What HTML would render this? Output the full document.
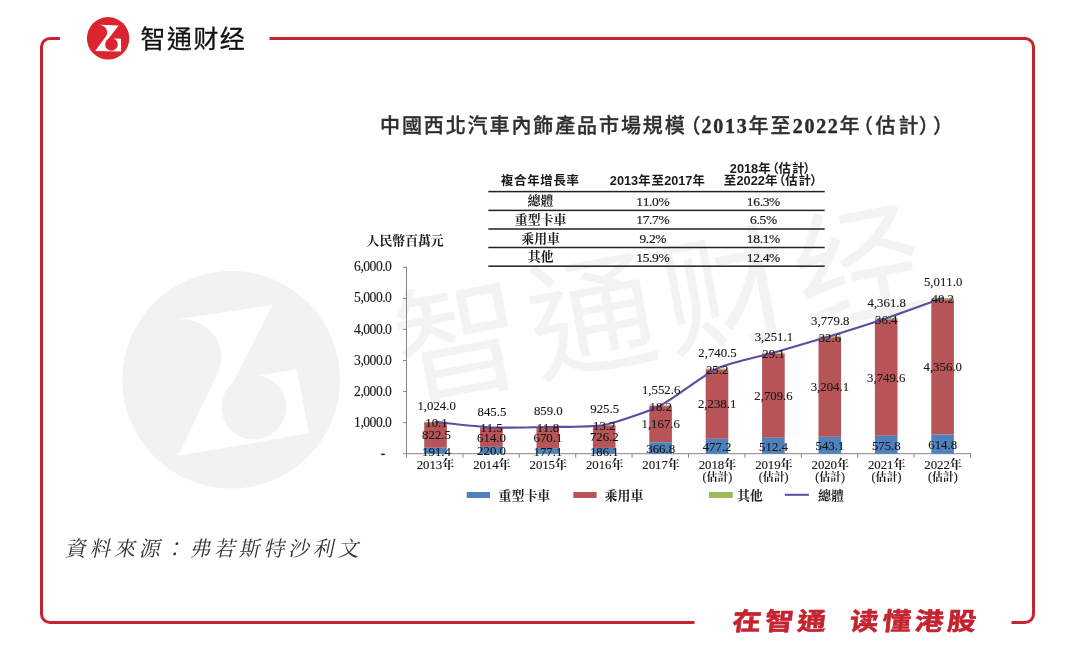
<!DOCTYPE html>
<html lang="zh-Hant">
<head>
<meta charset="utf-8">
<title>中國西北汽車內飾產品市場規模（2013年至2022年（估計））</title>
<style>
html,body{margin:0;padding:0;background:#fff}
body{width:1080px;height:647px;position:relative;overflow:hidden;font-family:"Liberation Serif",serif}
svg{position:absolute;left:0;top:0;display:block;will-change:transform}
svg text{white-space:pre}
.t{position:absolute;color:transparent;white-space:nowrap;line-height:1;font-family:"Liberation Sans",sans-serif;pointer-events:none;user-select:none}
</style>
</head>
<body>
<svg width="1080" height="647" viewBox="0 0 1080 647">
<g transform="translate(231.2 379.7) rotate(-10.6) scale(5.13) translate(-108.110 -38.332)"><g transform="translate(84 14) scale(0.07418)"><circle cx="325" cy="328" r="286" fill="#F2F2F2"/><path fill="#fff" d="M205 145L468 155L342 318L371 413L395 330L499 333L500 504L151 499L293 305C340 244.5 300 150 205 145Z"/><circle cx="370" cy="410" r="85" fill="#F2F2F2"/><path fill="#F2F2F2" d="M343 317L298 371L370 410L395 331Z"/></g><text x="140.6 167 193.4 219.8" y="48.3" style="font-family:'Liberation Sans','Noto Sans CJK SC',sans-serif;font-size:25px" fill="#F3F3F3">智通财经</text></g>
<path fill="none" stroke="#C4242F" stroke-width="3" d="M60 38.5H50.0A8.5 8.5 0 0 0 41.5 47.0V614.0A8.5 8.5 0 0 0 50.0 622.5H694.5M1011.5 622.5H1025.0A8.5 8.5 0 0 0 1033.5 614.0V47.0A8.5 8.5 0 0 0 1025.0 38.5H269.5"/>
<g transform="translate(84 14) scale(0.07418)"><circle cx="325" cy="328" r="286" fill="#DA2531"/><path fill="#fff" d="M205 145L468 155L342 318L371 413L395 330L499 333L500 504L151 499L293 305C340 244.5 300 150 205 145Z"/><circle cx="370" cy="410" r="85" fill="#DA2531"/><path fill="#DA2531" d="M343 317L298 371L370 410L395 331Z"/></g>
<text x="140.6 167 193.4 219.8" y="48.3" style="font-family:'Liberation Sans','Noto Sans CJK SC',sans-serif;font-size:25px" fill="#111" stroke="#111" stroke-width="0.3">智通财经</text>
<text x="380 401.9 423.8 445.7 467.6 489.5 511.4 533.3 555.2 577.1 599 620.9 642.8 664.7" y="133.1" style="font-family:'Liberation Sans','Noto Sans CJK TC',sans-serif;font-weight:500;font-size:20px" fill="#2e2e2e" stroke="#2e2e2e" stroke-width="0.3">中國西北汽車內飾產品市場規模</text>
<text x="700.5" y="133.1" text-anchor="end" style="font-family:'Liberation Sans','Noto Sans CJK TC',sans-serif;font-weight:500;font-size:20px" fill="#2e2e2e" stroke="#2e2e2e" stroke-width="0.3">（</text>
<text x="748.4 770.6" y="133.1" style="font-family:'Liberation Sans','Noto Sans CJK TC',sans-serif;font-weight:500;font-size:20px" fill="#2e2e2e" stroke="#2e2e2e" stroke-width="0.3">年至</text><text x="839.6" y="133.1" style="font-family:'Liberation Sans','Noto Sans CJK TC',sans-serif;font-weight:500;font-size:20px" fill="#2e2e2e" stroke="#2e2e2e" stroke-width="0.3">年</text><text x="701.56 713.26 724.96 736.66" y="133.1" style="font-family:'Liberation Serif',serif;font-weight:bold;font-size:20px" fill="#2e2e2e" stroke="#111" stroke-width="0.35">2013</text><text x="792.76 804.46 816.16 827.86" y="133.1" style="font-family:'Liberation Serif',serif;font-weight:bold;font-size:20px" fill="#2e2e2e" stroke="#111" stroke-width="0.35">2022</text>
<text x="873" y="133.1" text-anchor="end" style="font-family:'Liberation Sans','Noto Sans CJK TC',sans-serif;font-weight:500;font-size:20px" fill="#2e2e2e" stroke="#2e2e2e" stroke-width="0.3">（</text>
<text x="875.6 898.5" y="133.1" style="font-family:'Liberation Sans','Noto Sans CJK TC',sans-serif;font-weight:500;font-size:20px" fill="#2e2e2e" stroke="#2e2e2e" stroke-width="0.3">估計</text>
<text x="918.7" y="133.1" style="font-family:'Liberation Sans','Noto Sans CJK TC',sans-serif;font-weight:500;font-size:20px" fill="#2e2e2e" stroke="#2e2e2e" stroke-width="0.3">）</text>
<text x="932.9" y="133.1" style="font-family:'Liberation Sans','Noto Sans CJK TC',sans-serif;font-weight:500;font-size:20px" fill="#2e2e2e" stroke="#2e2e2e" stroke-width="0.3">）</text>
<rect x="488.3" y="190.85" width="336.4" height="1.5" fill="#222"/>
<rect x="488.3" y="209.65" width="336.4" height="1.5" fill="#222"/>
<rect x="488.3" y="228.25" width="336.4" height="1.5" fill="#222"/>
<rect x="488.3" y="246.75" width="336.4" height="1.5" fill="#222"/>
<rect x="488.3" y="265.45" width="336.4" height="1.5" fill="#222"/>
<text x="501 514.1 527.2 540.3 553.4 566.5" y="185.2" style="font-family:'Liberation Sans','Noto Sans CJK TC',sans-serif;font-weight:bold;font-size:12.4px" fill="#1a1a1a">複合年增長率</text>
<text x="638.3 651.4" y="185.2" style="font-family:'Liberation Sans','Noto Sans CJK TC',sans-serif;font-weight:bold;font-size:12.4px" fill="#1a1a1a">年至</text><text x="692.6" y="185.2" style="font-family:'Liberation Sans','Noto Sans CJK TC',sans-serif;font-weight:bold;font-size:12.4px" fill="#1a1a1a">年</text><text x="609.86 616.92 623.99 631.06" y="185.2" style="font-family:'Liberation Sans',sans-serif;font-weight:bold;font-size:12.8px" fill="#1a1a1a" >2013</text><text x="664.13 671.2 678.27 685.34" y="185.2" style="font-family:'Liberation Sans',sans-serif;font-weight:bold;font-size:12.8px" fill="#1a1a1a" >2017</text>
<text x="758.3" y="172.7" style="font-family:'Liberation Sans','Noto Sans CJK TC',sans-serif;font-weight:bold;font-size:12.4px" fill="#1a1a1a">年</text><text x="778.9" y="172.7" text-anchor="end" style="font-family:'Liberation Sans','Noto Sans CJK TC',sans-serif;font-weight:bold;font-size:12.4px" fill="#1a1a1a">（</text><text x="778.6 792" y="172.7" style="font-family:'Liberation Sans','Noto Sans CJK TC',sans-serif;font-weight:bold;font-size:12.4px" fill="#1a1a1a">估計</text><text x="803.6" y="172.7" style="font-family:'Liberation Sans','Noto Sans CJK TC',sans-serif;font-weight:bold;font-size:12.4px" fill="#1a1a1a">）</text><text x="729.87 736.94 744.01 751.07" y="172.7" style="font-family:'Liberation Sans',sans-serif;font-weight:bold;font-size:12.8px" fill="#1a1a1a" >2018</text>
<text x="723.8" y="185.2" style="font-family:'Liberation Sans','Noto Sans CJK TC',sans-serif;font-weight:bold;font-size:12.4px" fill="#1a1a1a">至</text><text x="765" y="185.2" style="font-family:'Liberation Sans','Noto Sans CJK TC',sans-serif;font-weight:bold;font-size:12.4px" fill="#1a1a1a">年</text><text x="785.5" y="185.2" text-anchor="end" style="font-family:'Liberation Sans','Noto Sans CJK TC',sans-serif;font-weight:bold;font-size:12.4px" fill="#1a1a1a">（</text><text x="785.2 798.6" y="185.2" style="font-family:'Liberation Sans','Noto Sans CJK TC',sans-serif;font-weight:bold;font-size:12.4px" fill="#1a1a1a">估計</text><text x="810.2" y="185.2" style="font-family:'Liberation Sans','Noto Sans CJK TC',sans-serif;font-weight:bold;font-size:12.4px" fill="#1a1a1a">）</text><text x="736.51 743.58 750.64 757.71" y="185.2" style="font-family:'Liberation Sans',sans-serif;font-weight:bold;font-size:12.8px" fill="#1a1a1a" >2022</text>
<text x="527.4 540.4" y="205.4" style="font-family:'Liberation Serif','Noto Serif CJK SC',serif;font-weight:bold;font-size:12.9px" fill="#1a1a1a">總體</text>
<text x="636.26 642.66 649.06 652.09 658.49" y="205.6" style="font-family:'Liberation Serif',serif;font-size:13.5px" fill="#1a1a1a" stroke="#1a1a1a" stroke-width="0.2">11.0%</text>
<text x="746.86 753.26 759.66 762.69 769.09" y="205.6" style="font-family:'Liberation Serif',serif;font-size:13.5px" fill="#1a1a1a" stroke="#1a1a1a" stroke-width="0.2">16.3%</text>
<text x="514.7 527.65 540.6 553.55" y="224.1" style="font-family:'Liberation Serif','Noto Serif CJK SC',serif;font-weight:bold;font-size:12.9px" fill="#1a1a1a">重型卡車</text>
<text x="636.26 642.66 649.06 652.09 658.49" y="224.3" style="font-family:'Liberation Serif',serif;font-size:13.5px" fill="#1a1a1a" stroke="#1a1a1a" stroke-width="0.2">17.7%</text>
<text x="750.06 756.46 759.49 765.89" y="224.3" style="font-family:'Liberation Serif',serif;font-size:13.5px" fill="#1a1a1a" stroke="#1a1a1a" stroke-width="0.2">6.5%</text>
<text x="521.2 534.15 547.1" y="242.7" style="font-family:'Liberation Serif','Noto Serif CJK SC',serif;font-weight:bold;font-size:12.9px" fill="#1a1a1a">乘用車</text>
<text x="639.46 645.86 648.89 655.29" y="242.9" style="font-family:'Liberation Serif',serif;font-size:13.5px" fill="#1a1a1a" stroke="#1a1a1a" stroke-width="0.2">9.2%</text>
<text x="746.86 753.26 759.66 762.69 769.09" y="242.9" style="font-family:'Liberation Serif',serif;font-size:13.5px" fill="#1a1a1a" stroke="#1a1a1a" stroke-width="0.2">18.1%</text>
<text x="527.7 540.65" y="261.3" style="font-family:'Liberation Serif','Noto Serif CJK SC',serif;font-weight:bold;font-size:12.9px" fill="#1a1a1a">其他</text>
<text x="636.26 642.66 649.06 652.09 658.49" y="261.5" style="font-family:'Liberation Serif',serif;font-size:13.5px" fill="#1a1a1a" stroke="#1a1a1a" stroke-width="0.2">15.9%</text>
<text x="746.86 753.26 759.66 762.69 769.09" y="261.5" style="font-family:'Liberation Serif',serif;font-size:13.5px" fill="#1a1a1a" stroke="#1a1a1a" stroke-width="0.2">12.4%</text>
<text x="366.6 379.45 392.3 405.15 418 430.85" y="245" style="font-family:'Liberation Serif','Noto Serif CJK SC',serif;font-weight:bold;font-size:12.9px" fill="#1a1a1a">人民幣百萬元</text>
<path stroke="#868686" stroke-width="1" fill="none" d="M406.5 266.78V453.7M403.0 453.7H406.5M403.0 422.63H406.5M403.0 391.56H406.5M403.0 360.49H406.5M403.0 329.42H406.5M403.0 298.35H406.5M403.0 267.28H406.5M406.0 453.7H971.0M406.5 453.7v4M462.9 453.7v4M519.3 453.7v4M575.7 453.7v4M632.1 453.7v4M688.5 453.7v4M744.9 453.7v4M801.3 453.7v4M857.7 453.7v4M914.1 453.7v4M970.5 453.7v4"/>
<text x="354.12 360.42 363.32 369.62 375.92 382.22 385.12" y="426.73" style="font-family:'Liberation Serif',serif;font-size:13.6px" fill="#1a1a1a" stroke="#1a1a1a" stroke-width="0.15">1,000.0</text>
<text x="354.12 360.42 363.32 369.62 375.92 382.22 385.12" y="395.66" style="font-family:'Liberation Serif',serif;font-size:13.6px" fill="#1a1a1a" stroke="#1a1a1a" stroke-width="0.15">2,000.0</text>
<text x="354.12 360.42 363.32 369.62 375.92 382.22 385.12" y="364.59" style="font-family:'Liberation Serif',serif;font-size:13.6px" fill="#1a1a1a" stroke="#1a1a1a" stroke-width="0.15">3,000.0</text>
<text x="354.12 360.42 363.32 369.62 375.92 382.22 385.12" y="333.52" style="font-family:'Liberation Serif',serif;font-size:13.6px" fill="#1a1a1a" stroke="#1a1a1a" stroke-width="0.15">4,000.0</text>
<text x="354.12 360.42 363.32 369.62 375.92 382.22 385.12" y="302.45" style="font-family:'Liberation Serif',serif;font-size:13.6px" fill="#1a1a1a" stroke="#1a1a1a" stroke-width="0.15">5,000.0</text>
<text x="354.12 360.42 363.32 369.62 375.92 382.22 385.12" y="271.38" style="font-family:'Liberation Serif',serif;font-size:13.6px" fill="#1a1a1a" stroke="#1a1a1a" stroke-width="0.15">6,000.0</text>
<rect x="381.2" y="453.59999999999997" width="3.6" height="1.5" fill="#1a1a1a"/>
<rect x="424.2" y="422.2" width="22.6" height="25.56" fill="#B65458"/>
<rect x="424.2" y="447.75" width="22.6" height="5.95" fill="#4F81BD"/>
<rect x="424.2" y="421.88" width="22.6" height="0.31" fill="#9BBB59"/>
<rect x="480.1" y="427.79" width="22.6" height="19.08" fill="#B65458"/>
<rect x="480.1" y="446.86" width="22.6" height="6.84" fill="#4F81BD"/>
<rect x="480.1" y="427.43" width="22.6" height="0.36" fill="#9BBB59"/>
<rect x="536.5" y="427.38" width="22.6" height="20.82" fill="#B65458"/>
<rect x="536.5" y="448.2" width="22.6" height="5.5" fill="#4F81BD"/>
<rect x="536.5" y="427.01" width="22.6" height="0.37" fill="#9BBB59"/>
<rect x="592.9" y="425.35" width="22.6" height="22.56" fill="#B65458"/>
<rect x="592.9" y="447.92" width="22.6" height="5.78" fill="#4F81BD"/>
<rect x="592.9" y="424.94" width="22.6" height="0.41" fill="#9BBB59"/>
<rect x="649.3" y="406.03" width="22.6" height="36.28" fill="#B65458"/>
<rect x="649.3" y="442.3" width="22.6" height="11.4" fill="#4F81BD"/>
<rect x="649.3" y="405.46" width="22.6" height="0.57" fill="#9BBB59"/>
<rect x="705.7" y="369.34" width="22.6" height="69.54" fill="#B65458"/>
<rect x="705.7" y="438.87" width="22.6" height="14.83" fill="#4F81BD"/>
<rect x="705.7" y="368.55" width="22.6" height="0.78" fill="#9BBB59"/>
<rect x="762.1" y="353.59" width="22.6" height="84.19" fill="#B65458"/>
<rect x="762.1" y="437.78" width="22.6" height="15.92" fill="#4F81BD"/>
<rect x="762.1" y="352.69" width="22.6" height="0.9" fill="#9BBB59"/>
<rect x="818.5" y="337.27" width="22.6" height="99.55" fill="#B65458"/>
<rect x="818.5" y="436.83" width="22.6" height="16.87" fill="#4F81BD"/>
<rect x="818.5" y="336.26" width="22.6" height="1.01" fill="#9BBB59"/>
<rect x="874.9" y="319.31" width="22.6" height="116.5" fill="#B65458"/>
<rect x="874.9" y="435.81" width="22.6" height="17.89" fill="#4F81BD"/>
<rect x="874.9" y="318.18" width="22.6" height="1.13" fill="#9BBB59"/>
<rect x="931.3" y="299.26" width="22.6" height="135.34" fill="#B65458"/>
<rect x="931.3" y="434.6" width="22.6" height="19.1" fill="#4F81BD"/>
<rect x="931.3" y="298.01" width="22.6" height="1.25" fill="#9BBB59"/>
<path d="M435.5 421.88C441.46 422.48 479.42 426.88 491.4 427.43C503.38 427.98 535.77 427.28 547.8 427.01C559.83 426.75 592.17 427.24 604.2 424.94C616.23 422.65 648.57 411.48 660.6 405.46C672.63 399.45 704.97 374.18 717 368.55C729.03 362.92 761.37 356.13 773.4 352.69C785.43 349.24 817.77 339.94 829.8 336.26C841.83 332.58 874.17 322.26 886.2 318.18C898.23 314.1 936.58 300.16 942.6 298.01" fill="none" stroke="#604C9F" stroke-width="2.1" stroke-linecap="round" stroke-linejoin="round"/>
<g transform="translate(436.6 410.34) scale(0.97 1)"><text x="-19.8 -13.2 -9.9 -3.3 3.3 9.9 13.2" y="0" style="font-family:'Liberation Serif',serif;font-size:13.2px" fill="#141414" stroke="#141414" stroke-width="0.1">1,024.0</text></g>
<g transform="translate(436.5 426.9) scale(0.97 1)"><text x="-11.55 -4.95 1.65 4.95" y="0" style="font-family:'Liberation Serif',serif;font-size:13.2px" fill="#141414" stroke="#141414" stroke-width="0.1">10.1</text></g>
<g transform="translate(436.5 439.23) scale(0.97 1)"><text x="-14.85 -8.25 -1.65 4.95 8.25" y="0" style="font-family:'Liberation Serif',serif;font-size:13.2px" fill="#141414" stroke="#141414" stroke-width="0.1">822.5</text></g>
<g transform="translate(436.5 455.78) scale(0.97 1)"><text x="-14.85 -8.25 -1.65 4.95 8.25" y="0" style="font-family:'Liberation Serif',serif;font-size:13.2px" fill="#141414" stroke="#141414" stroke-width="0.1">191.4</text></g>
<g transform="translate(491.9 415.89) scale(0.97 1)"><text x="-14.85 -8.25 -1.65 4.95 8.25" y="0" style="font-family:'Liberation Serif',serif;font-size:13.2px" fill="#141414" stroke="#141414" stroke-width="0.1">845.5</text></g>
<g transform="translate(491.5 432.46) scale(0.97 1)"><text x="-11.55 -4.95 1.65 4.95" y="0" style="font-family:'Liberation Serif',serif;font-size:13.2px" fill="#141414" stroke="#141414" stroke-width="0.1">11.5</text></g>
<g transform="translate(491.5 441.58) scale(0.97 1)"><text x="-14.85 -8.25 -1.65 4.95 8.25" y="0" style="font-family:'Liberation Serif',serif;font-size:13.2px" fill="#141414" stroke="#141414" stroke-width="0.1">614.0</text></g>
<g transform="translate(491.5 455.34) scale(0.97 1)"><text x="-14.85 -8.25 -1.65 4.95 8.25" y="0" style="font-family:'Liberation Serif',serif;font-size:13.2px" fill="#141414" stroke="#141414" stroke-width="0.1">220.0</text></g>
<g transform="translate(548.3 415.47) scale(0.97 1)"><text x="-14.85 -8.25 -1.65 4.95 8.25" y="0" style="font-family:'Liberation Serif',serif;font-size:13.2px" fill="#141414" stroke="#141414" stroke-width="0.1">859.0</text></g>
<g transform="translate(547.9 432.05) scale(0.97 1)"><text x="-11.55 -4.95 1.65 4.95" y="0" style="font-family:'Liberation Serif',serif;font-size:13.2px" fill="#141414" stroke="#141414" stroke-width="0.1">11.8</text></g>
<g transform="translate(547.9 442.04) scale(0.97 1)"><text x="-14.85 -8.25 -1.65 4.95 8.25" y="0" style="font-family:'Liberation Serif',serif;font-size:13.2px" fill="#141414" stroke="#141414" stroke-width="0.1">670.1</text></g>
<g transform="translate(547.9 456) scale(0.97 1)"><text x="-14.85 -8.25 -1.65 4.95 8.25" y="0" style="font-family:'Liberation Serif',serif;font-size:13.2px" fill="#141414" stroke="#141414" stroke-width="0.1">177.1</text></g>
<g transform="translate(604.7 413.4) scale(0.97 1)"><text x="-14.85 -8.25 -1.65 4.95 8.25" y="0" style="font-family:'Liberation Serif',serif;font-size:13.2px" fill="#141414" stroke="#141414" stroke-width="0.1">925.5</text></g>
<g transform="translate(604.3 430.01) scale(0.97 1)"><text x="-11.55 -4.95 1.65 4.95" y="0" style="font-family:'Liberation Serif',serif;font-size:13.2px" fill="#141414" stroke="#141414" stroke-width="0.1">13.2</text></g>
<g transform="translate(604.3 440.89) scale(0.97 1)"><text x="-14.85 -8.25 -1.65 4.95 8.25" y="0" style="font-family:'Liberation Serif',serif;font-size:13.2px" fill="#141414" stroke="#141414" stroke-width="0.1">726.2</text></g>
<g transform="translate(604.3 455.86) scale(0.97 1)"><text x="-14.85 -8.25 -1.65 4.95 8.25" y="0" style="font-family:'Liberation Serif',serif;font-size:13.2px" fill="#141414" stroke="#141414" stroke-width="0.1">186.1</text></g>
<g transform="translate(661.1 393.92) scale(0.97 1)"><text x="-19.8 -13.2 -9.9 -3.3 3.3 9.9 13.2" y="0" style="font-family:'Liberation Serif',serif;font-size:13.2px" fill="#141414" stroke="#141414" stroke-width="0.1">1,552.6</text></g>
<g transform="translate(660.7 410.6) scale(0.97 1)"><text x="-11.55 -4.95 1.65 4.95" y="0" style="font-family:'Liberation Serif',serif;font-size:13.2px" fill="#141414" stroke="#141414" stroke-width="0.1">18.2</text></g>
<g transform="translate(660.7 428.42) scale(0.97 1)"><text x="-19.8 -13.2 -9.9 -3.3 3.3 9.9 13.2" y="0" style="font-family:'Liberation Serif',serif;font-size:13.2px" fill="#141414" stroke="#141414" stroke-width="0.1">1,167.6</text></g>
<g transform="translate(660.7 453.06) scale(0.97 1)"><text x="-14.85 -8.25 -1.65 4.95 8.25" y="0" style="font-family:'Liberation Serif',serif;font-size:13.2px" fill="#141414" stroke="#141414" stroke-width="0.1">366.8</text></g>
<g transform="translate(717.5 357.01) scale(0.97 1)"><text x="-19.8 -13.2 -9.9 -3.3 3.3 9.9 13.2" y="0" style="font-family:'Liberation Serif',serif;font-size:13.2px" fill="#141414" stroke="#141414" stroke-width="0.1">2,740.5</text></g>
<g transform="translate(717.1 373.8) scale(0.97 1)"><text x="-11.55 -4.95 1.65 4.95" y="0" style="font-family:'Liberation Serif',serif;font-size:13.2px" fill="#141414" stroke="#141414" stroke-width="0.1">25.2</text></g>
<g transform="translate(717.1 408.36) scale(0.97 1)"><text x="-19.8 -13.2 -9.9 -3.3 3.3 9.9 13.2" y="0" style="font-family:'Liberation Serif',serif;font-size:13.2px" fill="#141414" stroke="#141414" stroke-width="0.1">2,238.1</text></g>
<g transform="translate(717.1 451.34) scale(0.97 1)"><text x="-14.85 -8.25 -1.65 4.95 8.25" y="0" style="font-family:'Liberation Serif',serif;font-size:13.2px" fill="#141414" stroke="#141414" stroke-width="0.1">477.2</text></g>
<g transform="translate(773.9 341.14) scale(0.97 1)"><text x="-19.8 -13.2 -9.9 -3.3 3.3 9.9 13.2" y="0" style="font-family:'Liberation Serif',serif;font-size:13.2px" fill="#141414" stroke="#141414" stroke-width="0.1">3,251.1</text></g>
<g transform="translate(773.5 358) scale(0.97 1)"><text x="-11.55 -4.95 1.65 4.95" y="0" style="font-family:'Liberation Serif',serif;font-size:13.2px" fill="#141414" stroke="#141414" stroke-width="0.1">29.1</text></g>
<g transform="translate(773.5 399.94) scale(0.97 1)"><text x="-19.8 -13.2 -9.9 -3.3 3.3 9.9 13.2" y="0" style="font-family:'Liberation Serif',serif;font-size:13.2px" fill="#141414" stroke="#141414" stroke-width="0.1">2,709.6</text></g>
<g transform="translate(773.5 450.8) scale(0.97 1)"><text x="-14.85 -8.25 -1.65 4.95 8.25" y="0" style="font-family:'Liberation Serif',serif;font-size:13.2px" fill="#141414" stroke="#141414" stroke-width="0.1">512.4</text></g>
<g transform="translate(830.3 324.72) scale(0.97 1)"><text x="-19.8 -13.2 -9.9 -3.3 3.3 9.9 13.2" y="0" style="font-family:'Liberation Serif',serif;font-size:13.2px" fill="#141414" stroke="#141414" stroke-width="0.1">3,779.8</text></g>
<g transform="translate(829.9 341.62) scale(0.97 1)"><text x="-11.55 -4.95 1.65 4.95" y="0" style="font-family:'Liberation Serif',serif;font-size:13.2px" fill="#141414" stroke="#141414" stroke-width="0.1">32.6</text></g>
<g transform="translate(829.9 391.31) scale(0.97 1)"><text x="-19.8 -13.2 -9.9 -3.3 3.3 9.9 13.2" y="0" style="font-family:'Liberation Serif',serif;font-size:13.2px" fill="#141414" stroke="#141414" stroke-width="0.1">3,204.1</text></g>
<g transform="translate(829.9 450.32) scale(0.97 1)"><text x="-14.85 -8.25 -1.65 4.95 8.25" y="0" style="font-family:'Liberation Serif',serif;font-size:13.2px" fill="#141414" stroke="#141414" stroke-width="0.1">543.1</text></g>
<g transform="translate(886.7 306.63) scale(0.97 1)"><text x="-19.8 -13.2 -9.9 -3.3 3.3 9.9 13.2" y="0" style="font-family:'Liberation Serif',serif;font-size:13.2px" fill="#141414" stroke="#141414" stroke-width="0.1">4,361.8</text></g>
<g transform="translate(886.3 323.6) scale(0.97 1)"><text x="-11.55 -4.95 1.65 4.95" y="0" style="font-family:'Liberation Serif',serif;font-size:13.2px" fill="#141414" stroke="#141414" stroke-width="0.1">36.4</text></g>
<g transform="translate(886.3 381.82) scale(0.97 1)"><text x="-19.8 -13.2 -9.9 -3.3 3.3 9.9 13.2" y="0" style="font-family:'Liberation Serif',serif;font-size:13.2px" fill="#141414" stroke="#141414" stroke-width="0.1">3,749.6</text></g>
<g transform="translate(886.3 449.81) scale(0.97 1)"><text x="-14.85 -8.25 -1.65 4.95 8.25" y="0" style="font-family:'Liberation Serif',serif;font-size:13.2px" fill="#141414" stroke="#141414" stroke-width="0.1">575.8</text></g>
<g transform="translate(943.1 286.46) scale(0.97 1)"><text x="-19.8 -13.2 -9.9 -3.3 3.3 9.9 13.2" y="0" style="font-family:'Liberation Serif',serif;font-size:13.2px" fill="#141414" stroke="#141414" stroke-width="0.1">5,011.0</text></g>
<g transform="translate(942.7 303.49) scale(0.97 1)"><text x="-11.55 -4.95 1.65 4.95" y="0" style="font-family:'Liberation Serif',serif;font-size:13.2px" fill="#141414" stroke="#141414" stroke-width="0.1">40.2</text></g>
<g transform="translate(942.7 371.18) scale(0.97 1)"><text x="-19.8 -13.2 -9.9 -3.3 3.3 9.9 13.2" y="0" style="font-family:'Liberation Serif',serif;font-size:13.2px" fill="#141414" stroke="#141414" stroke-width="0.1">4,356.0</text></g>
<g transform="translate(942.7 449.21) scale(0.97 1)"><text x="-14.85 -8.25 -1.65 4.95 8.25" y="0" style="font-family:'Liberation Serif',serif;font-size:13.2px" fill="#141414" stroke="#141414" stroke-width="0.1">614.8</text></g>
<text x="442.2" y="469.4" style="font-family:'Liberation Serif','Noto Serif CJK SC',serif;font-weight:bold;font-size:12px" fill="#1a1a1a">年</text><text x="416.75 423.1 429.45 435.8" y="468.9" style="font-family:'Liberation Serif',serif;font-size:12.9px" fill="#1a1a1a" stroke="#1a1a1a" stroke-width="0.15">2013</text>
<text x="498.6" y="469.4" style="font-family:'Liberation Serif','Noto Serif CJK SC',serif;font-weight:bold;font-size:12px" fill="#1a1a1a">年</text><text x="473.15 479.5 485.85 492.2" y="468.9" style="font-family:'Liberation Serif',serif;font-size:12.9px" fill="#1a1a1a" stroke="#1a1a1a" stroke-width="0.15">2014</text>
<text x="555" y="469.4" style="font-family:'Liberation Serif','Noto Serif CJK SC',serif;font-weight:bold;font-size:12px" fill="#1a1a1a">年</text><text x="529.55 535.9 542.25 548.6" y="468.9" style="font-family:'Liberation Serif',serif;font-size:12.9px" fill="#1a1a1a" stroke="#1a1a1a" stroke-width="0.15">2015</text>
<text x="611.4" y="469.4" style="font-family:'Liberation Serif','Noto Serif CJK SC',serif;font-weight:bold;font-size:12px" fill="#1a1a1a">年</text><text x="585.95 592.3 598.65 605" y="468.9" style="font-family:'Liberation Serif',serif;font-size:12.9px" fill="#1a1a1a" stroke="#1a1a1a" stroke-width="0.15">2016</text>
<text x="667.8" y="469.4" style="font-family:'Liberation Serif','Noto Serif CJK SC',serif;font-weight:bold;font-size:12px" fill="#1a1a1a">年</text><text x="642.35 648.7 655.05 661.4" y="468.9" style="font-family:'Liberation Serif',serif;font-size:12.9px" fill="#1a1a1a" stroke="#1a1a1a" stroke-width="0.15">2017</text>
<text x="724.2" y="469.4" style="font-family:'Liberation Serif','Noto Serif CJK SC',serif;font-weight:bold;font-size:12px" fill="#1a1a1a">年</text><text x="698.75 705.1 711.45 717.8" y="468.9" style="font-family:'Liberation Serif',serif;font-size:12.9px" fill="#1a1a1a" stroke="#1a1a1a" stroke-width="0.15">2018</text>
<text x="706.4 717.5" y="480.8" style="font-family:'Liberation Serif','Noto Serif CJK SC',serif;font-weight:bold;font-size:11px" fill="#1a1a1a">估計</text><text x="702.4" y="480.8" style="font-family:'Liberation Serif',serif;font-size:12px" fill="#1a1a1a" stroke="#1a1a1a" stroke-width="0.15">(</text><text x="728.2" y="480.8" style="font-family:'Liberation Serif',serif;font-size:12px" fill="#1a1a1a" stroke="#1a1a1a" stroke-width="0.15">)</text>
<text x="780.6" y="469.4" style="font-family:'Liberation Serif','Noto Serif CJK SC',serif;font-weight:bold;font-size:12px" fill="#1a1a1a">年</text><text x="755.15 761.5 767.85 774.2" y="468.9" style="font-family:'Liberation Serif',serif;font-size:12.9px" fill="#1a1a1a" stroke="#1a1a1a" stroke-width="0.15">2019</text>
<text x="762.8 773.9" y="480.8" style="font-family:'Liberation Serif','Noto Serif CJK SC',serif;font-weight:bold;font-size:11px" fill="#1a1a1a">估計</text><text x="758.8" y="480.8" style="font-family:'Liberation Serif',serif;font-size:12px" fill="#1a1a1a" stroke="#1a1a1a" stroke-width="0.15">(</text><text x="784.6" y="480.8" style="font-family:'Liberation Serif',serif;font-size:12px" fill="#1a1a1a" stroke="#1a1a1a" stroke-width="0.15">)</text>
<text x="837" y="469.4" style="font-family:'Liberation Serif','Noto Serif CJK SC',serif;font-weight:bold;font-size:12px" fill="#1a1a1a">年</text><text x="811.55 817.9 824.25 830.6" y="468.9" style="font-family:'Liberation Serif',serif;font-size:12.9px" fill="#1a1a1a" stroke="#1a1a1a" stroke-width="0.15">2020</text>
<text x="819.2 830.3" y="480.8" style="font-family:'Liberation Serif','Noto Serif CJK SC',serif;font-weight:bold;font-size:11px" fill="#1a1a1a">估計</text><text x="815.2" y="480.8" style="font-family:'Liberation Serif',serif;font-size:12px" fill="#1a1a1a" stroke="#1a1a1a" stroke-width="0.15">(</text><text x="841" y="480.8" style="font-family:'Liberation Serif',serif;font-size:12px" fill="#1a1a1a" stroke="#1a1a1a" stroke-width="0.15">)</text>
<text x="893.4" y="469.4" style="font-family:'Liberation Serif','Noto Serif CJK SC',serif;font-weight:bold;font-size:12px" fill="#1a1a1a">年</text><text x="867.95 874.3 880.65 887" y="468.9" style="font-family:'Liberation Serif',serif;font-size:12.9px" fill="#1a1a1a" stroke="#1a1a1a" stroke-width="0.15">2021</text>
<text x="875.6 886.7" y="480.8" style="font-family:'Liberation Serif','Noto Serif CJK SC',serif;font-weight:bold;font-size:11px" fill="#1a1a1a">估計</text><text x="871.6" y="480.8" style="font-family:'Liberation Serif',serif;font-size:12px" fill="#1a1a1a" stroke="#1a1a1a" stroke-width="0.15">(</text><text x="897.4" y="480.8" style="font-family:'Liberation Serif',serif;font-size:12px" fill="#1a1a1a" stroke="#1a1a1a" stroke-width="0.15">)</text>
<text x="949.8" y="469.4" style="font-family:'Liberation Serif','Noto Serif CJK SC',serif;font-weight:bold;font-size:12px" fill="#1a1a1a">年</text><text x="924.35 930.7 937.05 943.4" y="468.9" style="font-family:'Liberation Serif',serif;font-size:12.9px" fill="#1a1a1a" stroke="#1a1a1a" stroke-width="0.15">2022</text>
<text x="932 943.1" y="480.8" style="font-family:'Liberation Serif','Noto Serif CJK SC',serif;font-weight:bold;font-size:11px" fill="#1a1a1a">估計</text><text x="928" y="480.8" style="font-family:'Liberation Serif',serif;font-size:12px" fill="#1a1a1a" stroke="#1a1a1a" stroke-width="0.15">(</text><text x="953.8" y="480.8" style="font-family:'Liberation Serif',serif;font-size:12px" fill="#1a1a1a" stroke="#1a1a1a" stroke-width="0.15">)</text>
<rect x="466.7" y="492" width="23.3" height="6" fill="#4F81BD"/>
<text x="498.5 511.45 524.4 537.35" y="499.7" style="font-family:'Liberation Serif','Noto Serif CJK SC',serif;font-weight:bold;font-size:12.9px" fill="#1a1a1a">重型卡車</text>
<rect x="573.3" y="492" width="23.3" height="6" fill="#B65458"/>
<text x="604.5 617.45 630.4" y="499.7" style="font-family:'Liberation Serif','Noto Serif CJK SC',serif;font-weight:bold;font-size:12.9px" fill="#1a1a1a">乘用車</text>
<rect x="708.9" y="492" width="23.9" height="6" fill="#9BBB59"/>
<text x="737.1 750.05" y="499.7" style="font-family:'Liberation Serif','Noto Serif CJK SC',serif;font-weight:bold;font-size:12.9px" fill="#1a1a1a">其他</text>
<rect x="784.9" y="493.8" width="24" height="2" fill="#604C9F"/>
<text x="818 830.95" y="499.7" style="font-family:'Liberation Serif','Noto Serif CJK SC',serif;font-weight:bold;font-size:12.9px" fill="#1a1a1a">總體</text>
<g transform="translate(64.5 556.3) skewX(-12)"><text x="0.3 24.9 49.6 74.3 99.3 125 149.4 173.9 198.7 223.4 248 272.9" y="0" style="font-family:'Liberation Serif','Noto Serif CJK SC',serif;font-size:21px" fill="#333">資料來源：弗若斯特沙利文</text></g>
<g transform="translate(0 629.2) skewX(-6) translate(0 -629.2)"><g transform="translate(731.8 629.5) scale(1.17 1)"><text x="0 27.7 55.4" y="0" style="font-family:'Liberation Sans','Noto Sans CJK SC',sans-serif;font-weight:bold;font-size:24.5px" fill="#C4242F" stroke="#C4242F" stroke-width="0.6">在智通</text></g><g transform="translate(849 629.5) scale(1.17 1)"><text x="0 27.8 55.6 83.4" y="0" style="font-family:'Liberation Sans','Noto Sans CJK SC',sans-serif;font-weight:bold;font-size:24.5px" fill="#C4242F" stroke="#C4242F" stroke-width="0.6">读懂港股</text></g></g>
</svg>
<div aria-hidden="false">
<span class="t" style="left:141px;top:26px;font-size:25px">智通财经</span>
<span class="t" style="left:381px;top:115px;font-size:20px">中國西北汽車內飾產品市場規模（</span>
<span class="t" style="left:760px;top:115px;font-size:20px">年至</span>
<span class="t" style="left:501px;top:175px;font-size:12px">複合年增長率</span>
<span class="t" style="left:640px;top:175px;font-size:12px">年至</span>
<span class="t" style="left:760px;top:163px;font-size:12px">年（估計）</span>
<span class="t" style="left:723px;top:175px;font-size:12px">至</span>
<span class="t" style="left:520px;top:194.7px;font-size:12px">總體</span>
<span class="t" style="left:520px;top:213.4px;font-size:12px">重型卡車</span>
<span class="t" style="left:520px;top:232px;font-size:12px">乘用車</span>
<span class="t" style="left:520px;top:250.6px;font-size:12px">其他</span>
<span class="t" style="left:367px;top:234px;font-size:12px">人民幣百萬元</span>
<span class="t" style="left:430.3px;top:459px;font-size:12px">年</span>
<span class="t" style="left:486.7px;top:459px;font-size:12px">年</span>
<span class="t" style="left:543.1px;top:459px;font-size:12px">年</span>
<span class="t" style="left:599.5px;top:459px;font-size:12px">年</span>
<span class="t" style="left:655.9px;top:459px;font-size:12px">年</span>
<span class="t" style="left:712.3px;top:459px;font-size:12px">年</span>
<span class="t" style="left:707.3px;top:472px;font-size:12px">估計</span>
<span class="t" style="left:768.7px;top:459px;font-size:12px">年</span>
<span class="t" style="left:763.7px;top:472px;font-size:12px">估計</span>
<span class="t" style="left:825.1px;top:459px;font-size:12px">年</span>
<span class="t" style="left:820.1px;top:472px;font-size:12px">估計</span>
<span class="t" style="left:881.5px;top:459px;font-size:12px">年</span>
<span class="t" style="left:876.5px;top:472px;font-size:12px">估計</span>
<span class="t" style="left:937.9px;top:459px;font-size:12px">年</span>
<span class="t" style="left:932.9px;top:472px;font-size:12px">估計</span>
<span class="t" style="left:498.8px;top:488.7px;font-size:12px">重型卡車</span>
<span class="t" style="left:604.8px;top:488.7px;font-size:12px">乘用車</span>
<span class="t" style="left:737.4px;top:488.7px;font-size:12px">其他</span>
<span class="t" style="left:818.4px;top:488.7px;font-size:12px">總體</span>
<span class="t" style="left:66px;top:536px;font-size:21px">資料來源：弗若斯特沙利文</span>
<span class="t" style="left:733px;top:607px;font-size:24px">在智通 读懂港股</span>
</div>
</body>
</html>
